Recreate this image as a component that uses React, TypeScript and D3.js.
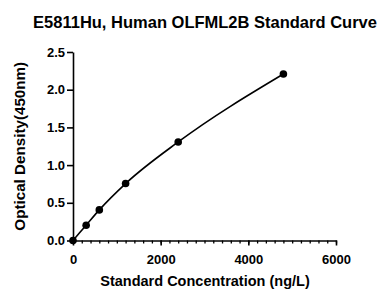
import React, { useEffect, useRef } from "react";
import * as d3 from "d3";

const concentrations = [0, 300, 600, 1200, 2400, 4800];
const densities = [0.0, 0.203, 0.406, 0.755, 1.307, 2.208];
const xTicks = [0, 2000, 4000, 6000];
const yTicks = [0, 0.5, 1.0, 1.5, 2.0, 2.5];

const App: React.FC = () => {
  const svgRef = useRef<SVGSVGElement>(null);

  useEffect(() => {
    if (!svgRef.current) return;
    const root = d3.select(svgRef.current);
    root.selectAll("*").remove();

    const width = 383;
    const height = 289;
    const margin = { top: 52, right: 47, bottom: 48.5, left: 73 };
    const font = "Arial, 'Liberation Sans', sans-serif";

    root.attr("width", width).attr("height", height);

    const x = d3.scaleLinear().domain([0, 6000]).range([margin.left, width - margin.right]);
    const y = d3.scaleLinear().domain([0, 2.5]).range([height - margin.bottom, margin.top]);

    // title
    root
      .append("text")
      .attr("x", 205)
      .attr("y", 28)
      .attr("text-anchor", "middle")
      .style("font-family", font)
      .style("font-weight", "bold")
      .style("font-size", "16.5px")
      .text("E5811Hu, Human OLFML2B Standard Curve");

    // x axis with minor ticks
    const xAxis = root.append("g").attr("transform", `translate(0,${y(0)})`);
    xAxis
      .call(
        d3
          .axisBottom(x)
          .tickValues(d3.range(0, 6001, 200))
          .tickSize(3)
          .tickFormat(() => "")
      )
      .call((g) => g.select(".domain").remove());
    xAxis.selectAll("line").attr("stroke", "#000").attr("stroke-width", 1.3);

    const xMajor = root.append("g").attr("transform", `translate(0,${y(0)})`);
    xMajor.call(
      d3
        .axisBottom(x)
        .tickValues(xTicks)
        .tickSize(5)
        .tickSizeOuter(0)
        .tickPadding(9)
        .tickFormat(d3.format("d"))
    );
    xMajor.select(".domain").attr("stroke-width", 1.6);
    xMajor.selectAll("line").attr("stroke-width", 1.6);
    xMajor
      .selectAll("text")
      .style("font-family", font)
      .style("font-weight", "bold")
      .style("font-size", "13px")
      .attr("fill", "#000");

    // y axis
    const yAxis = root.append("g").attr("transform", `translate(${x(0)},0)`);
    yAxis.call(
      d3
        .axisLeft(y)
        .tickValues(yTicks)
        .tickSize(6)
        .tickSizeOuter(0)
        .tickPadding(2)
        .tickFormat(d3.format(".1f"))
    );
    yAxis.select(".domain").attr("stroke-width", 1.6);
    yAxis.selectAll("line").attr("stroke-width", 1.6);
    yAxis
      .selectAll("text")
      .style("font-family", font)
      .style("font-weight", "bold")
      .style("font-size", "13px")
      .attr("fill", "#000");

    // axis labels
    root
      .append("text")
      .attr("x", 205)
      .attr("y", 286)
      .attr("text-anchor", "middle")
      .style("font-family", font)
      .style("font-weight", "bold")
      .style("font-size", "14.5px")
      .text("Standard Concentration (ng/L)");

    root
      .append("text")
      .attr("transform", `translate(25,${(y(0) + y(2.5)) / 2}) rotate(-90)`)
      .attr("text-anchor", "middle")
      .style("font-family", font)
      .style("font-weight", "bold")
      .style("font-size", "15.2px")
      .text("Optical Density(450nm)");

    const points = concentrations.map((c, i) => [c, densities[i]] as [number, number]);

    // curve
    const line = d3
      .line<[number, number]>()
      .x((d) => x(d[0]))
      .y((d) => y(d[1]))
      .curve(d3.curveMonotoneX);

    root
      .append("path")
      .datum(points)
      .attr("d", line)
      .attr("fill", "none")
      .attr("stroke", "#000")
      .attr("stroke-width", 1.6);

    // points
    root
      .selectAll(".pt")
      .data(points)
      .enter()
      .append("circle")
      .attr("cx", (d) => x(d[0]))
      .attr("cy", (d) => y(d[1]))
      .attr("r", 3.8)
      .attr("fill", "#000");
  }, []);

  return <svg ref={svgRef} style={{ position: "absolute", left: 0, top: 0 }} />;
};

export default App;
